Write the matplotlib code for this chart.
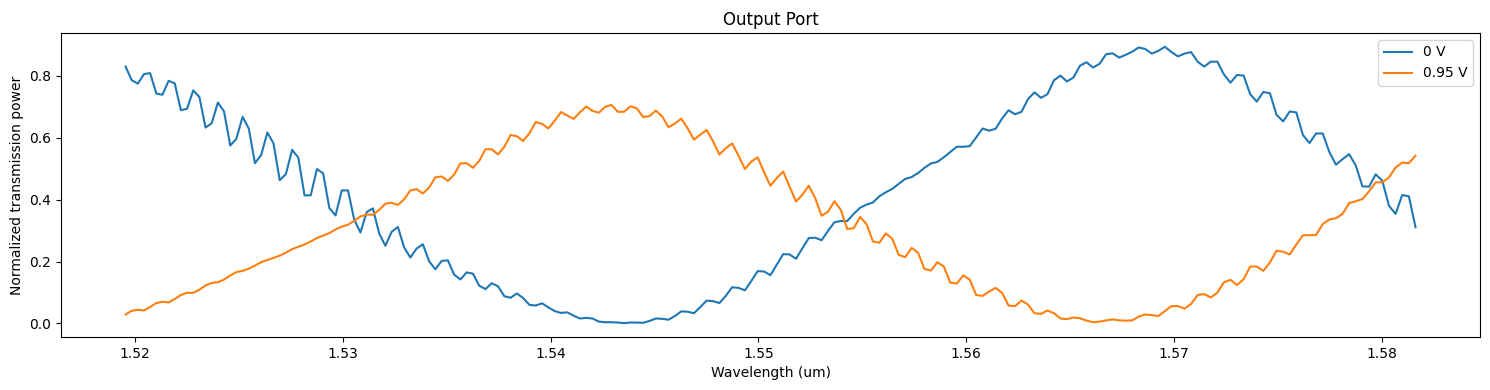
import numpy as np
import matplotlib
matplotlib.use('Agg')
import matplotlib.pyplot as plt

# sweep is uniform in optical frequency (1/um), so wavelength steps grow slowly
n_points = 203
freq = np.linspace(1 / 1.51955, 1 / 1.58162, n_points)
wavelength = 1 / freq

# 0 V bias
power_0v = [
    0.830, 0.786, 0.775, 0.806, 0.809, 0.743, 0.739, 0.784, 0.776, 0.689,
    0.694, 0.753, 0.732, 0.633, 0.647, 0.714, 0.685, 0.575, 0.597, 0.668,
    0.630, 0.518, 0.544, 0.617, 0.582, 0.463, 0.483, 0.561, 0.536, 0.414,
    0.414, 0.499, 0.485, 0.373, 0.349,
    0.430, 0.430, 0.335, 0.294, 0.360, 0.372, 0.291, 0.251, 0.296, 0.312,
    0.246, 0.213, 0.242, 0.256, 0.201, 0.175, 0.202, 0.204, 0.158, 0.142,
    0.165, 0.161, 0.122, 0.111, 0.130, 0.120, 0.088, 0.083, 0.097, 0.082,
    0.060, 0.058, 0.065, 0.052, 0.040,
    0.034, 0.036, 0.025, 0.016, 0.018, 0.016, 0.006, 0.004, 0.004, 0.003,
    0.001, 0.003, 0.003, 0.002, 0.008, 0.016, 0.015, 0.012, 0.024, 0.039,
    0.038, 0.033, 0.053, 0.074, 0.072, 0.066, 0.089, 0.117, 0.115, 0.107,
    0.137, 0.169, 0.168, 0.156,
    0.190, 0.224, 0.223, 0.209, 0.243, 0.276, 0.277, 0.269, 0.299, 0.327,
    0.331, 0.331, 0.354, 0.374, 0.384, 0.391, 0.411, 0.424, 0.435, 0.451,
    0.467, 0.473, 0.486, 0.503, 0.517, 0.522, 0.537, 0.554, 0.571, 0.571,
    0.573, 0.601, 0.630, 0.623, 0.629,
    0.662, 0.689, 0.676, 0.684, 0.725, 0.747, 0.729, 0.741, 0.786, 0.801,
    0.782, 0.795, 0.833, 0.844, 0.827, 0.839, 0.870, 0.873, 0.859, 0.868,
    0.878, 0.892, 0.887, 0.872, 0.881, 0.894, 0.877, 0.863, 0.872, 0.877,
    0.846, 0.830, 0.846,
    0.846, 0.805, 0.778, 0.803, 0.801, 0.741, 0.717, 0.748, 0.744, 0.674,
    0.653, 0.685, 0.682, 0.609, 0.583, 0.614, 0.614, 0.554, 0.513, 0.531,
    0.547, 0.510, 0.443, 0.442, 0.482, 0.461, 0.380, 0.354, 0.415, 0.411,
    0.311,
]

# 0.95 V bias
power_095v = [
    0.029, 0.041, 0.044, 0.042, 0.053, 0.066, 0.070, 0.068, 0.079, 0.092,
    0.099, 0.099, 0.109, 0.123, 0.131, 0.133, 0.142, 0.155, 0.166, 0.170,
    0.177, 0.187, 0.198, 0.205, 0.212, 0.219, 0.229, 0.240, 0.248, 0.255,
    0.265, 0.276, 0.284, 0.292, 0.304,
    0.313, 0.319, 0.332, 0.346, 0.352, 0.351, 0.367, 0.387, 0.390, 0.383,
    0.401, 0.430, 0.434, 0.420, 0.439, 0.472, 0.475, 0.461, 0.481, 0.517,
    0.518, 0.503, 0.525, 0.563, 0.563, 0.546, 0.571, 0.609, 0.605, 0.590,
    0.615, 0.651, 0.645, 0.630, 0.655,
    0.683, 0.672, 0.661, 0.682, 0.701, 0.687, 0.681, 0.700, 0.706, 0.684,
    0.684, 0.702, 0.695, 0.667, 0.670, 0.688, 0.669, 0.634, 0.646, 0.662,
    0.631, 0.594, 0.610, 0.625, 0.589, 0.546, 0.566, 0.582, 0.542, 0.499,
    0.523, 0.537, 0.489, 0.445,
    0.470, 0.491, 0.442, 0.394, 0.416, 0.445, 0.405, 0.348, 0.361, 0.395,
    0.367, 0.305, 0.308, 0.344, 0.321, 0.265, 0.261, 0.291, 0.274, 0.222,
    0.214, 0.244, 0.229, 0.176, 0.171, 0.198, 0.184, 0.132, 0.129, 0.155,
    0.142, 0.092, 0.089, 0.103, 0.115,
    0.099, 0.058, 0.056, 0.074, 0.061, 0.033, 0.031, 0.042, 0.033, 0.016,
    0.014, 0.019, 0.017, 0.009, 0.004, 0.006, 0.010, 0.013, 0.010, 0.009,
    0.010, 0.022, 0.029, 0.027, 0.024, 0.040, 0.056, 0.056, 0.048, 0.063,
    0.092, 0.095, 0.084,
    0.099, 0.133, 0.141, 0.124, 0.143, 0.184, 0.184, 0.170, 0.197, 0.235,
    0.232, 0.223, 0.255, 0.285, 0.285, 0.286, 0.321, 0.336, 0.340, 0.354,
    0.389, 0.395, 0.402, 0.427, 0.456, 0.456, 0.472, 0.504, 0.520, 0.518,
    0.542,
]

labels = ['0 V', '0.95 V']

fig = plt.figure(figsize=(14.9, 3.9), dpi=100)
plt.plot(wavelength, power_0v, label=labels[0])
plt.plot(wavelength, power_095v, label=labels[1])

plt.title('Output Port')
plt.xlabel('Wavelength (um)')
plt.ylabel('Normalized transmission power')
plt.legend(loc='upper right')
plt.subplots_adjust(left=0.041, right=0.9933, top=0.9154, bottom=0.136)
plt.savefig('out.png')
